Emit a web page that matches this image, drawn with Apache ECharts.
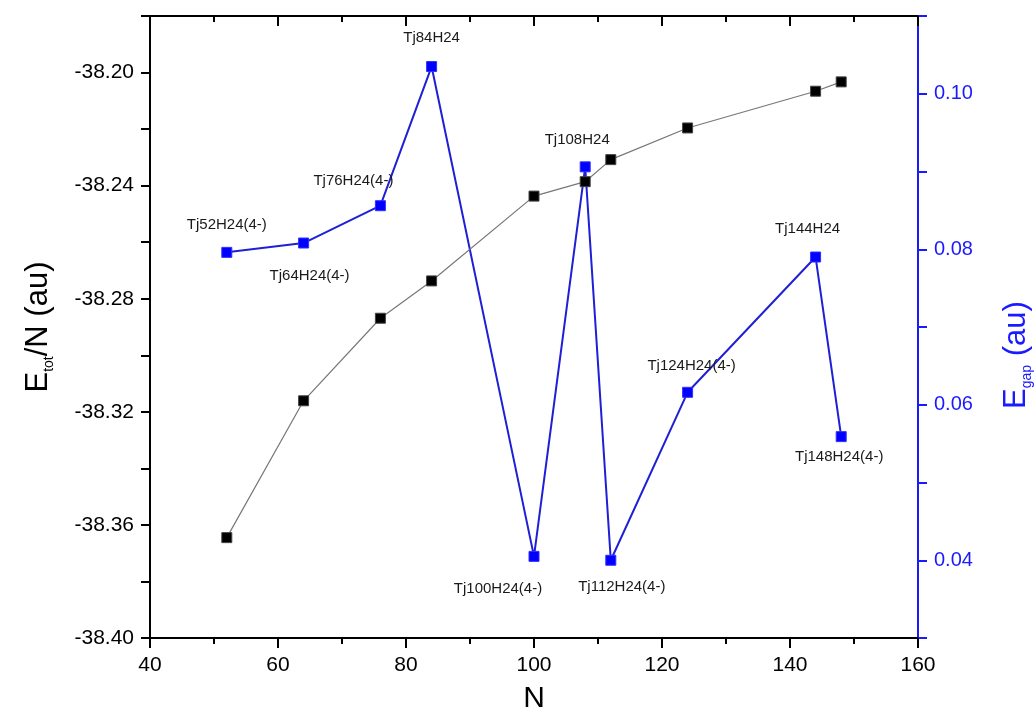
<!DOCTYPE html>
<html>
<head>
<meta charset="utf-8">
<script src="https://cdn.jsdelivr.net/npm/echarts@6/dist/echarts.min.js"></script>
<style>
    html, body { margin: 0; padding: 0; background: #fff; }
    #main { width: 1034px; height: 726px; }
</style>
</head>
<body>
<div id="main"></div>
<script>
// cluster size
const sizes = [52, 64, 76, 84, 100, 108, 112, 124, 144, 148];
// Etot/N (au), left axis
const etotPerN = [-38.3645, -38.3161, -38.2869, -38.2737, -38.2437, -38.2386, -38.2308, -38.2196, -38.2066, -38.2033];
// Egap (au), right axis
const egap = [0.0796, 0.0808, 0.0856, 0.1035, 0.0405, 0.0906, 0.0400, 0.0616, 0.0790, 0.0559];
// point names
const names = ['Tj52H24(4-)', 'Tj64H24(4-)', 'Tj76H24(4-)', 'Tj84H24', 'Tj100H24(4-)',
    'Tj108H24', 'Tj112H24(4-)', 'Tj124H24(4-)', 'Tj144H24', 'Tj148H24(4-)'];
// tick labels
const leftLabels = [-38.40, -38.36, -38.32, -38.28, -38.24, -38.20];
const rightLabels = [0.04, 0.06, 0.08, 0.10];

// where each name sits relative to its point
const labelOffsets = [[0, -28], [6, 33], [-27, -25], [0, -29], [-36, 32],
    [-8, -27], [11, 27], [4, -26], [-8, -28], [-2, 20]];

const font = 'Liberation Sans, Arial, sans-serif';
const blue = '#1a1aff';

let myChart = echarts.init(document.getElementById('main'));
myChart.setOption({
    backgroundColor: '#fff',
    animation: false,
    textStyle: { fontFamily: font },
    grid: {
        top: 16,
        right: 116,
        bottom: 88,
        left: 150,
        outerBoundsMode: 'none'
    },
    xAxis: [{
        type: 'value',
        min: 40,
        max: 160,
        interval: 20,
        name: 'N',
        nameLocation: 'middle',
        nameGap: 46,
        nameTextStyle: { fontSize: 30, color: '#000', fontFamily: font },
        axisLine: { lineStyle: { color: '#000', width: 2 } },
        axisTick: { length: 10, lineStyle: { color: '#000', width: 2 } },
        minorTick: { show: true, splitNumber: 2, length: 6, lineStyle: { color: '#000', width: 2 } },
        axisLabel: { fontSize: 21, color: '#000', margin: 17, fontFamily: font },
        splitLine: { show: false }
    }, {
        type: 'value',
        position: 'top',
        min: 40,
        max: 160,
        interval: 20,
        axisLine: { lineStyle: { color: '#000', width: 2 } },
        axisTick: { inside: true, length: 10, lineStyle: { color: '#000', width: 2 } },
        minorTick: { show: true, splitNumber: 2, length: 6, lineStyle: { color: '#000', width: 2 } },
        axisLabel: { show: false },
        splitLine: { show: false }
    }],
    yAxis: [{
        type: 'value',
        min: -38.40,
        max: -38.18,
        interval: 0.02,
        name: '{m|E}{s|tot}{m|/N (au)}',
        nameLocation: 'middle',
        nameGap: 94,
        nameTextStyle: {
            color: '#000',
            rich: {
                m: { fontSize: 31, lineHeight: 36, fontFamily: font, color: '#000' },
                s: { fontSize: 14, lineHeight: 14, verticalAlign: 'bottom', fontFamily: font, color: '#000' }
            }
        },
        axisLine: { lineStyle: { color: '#000', width: 2 } },
        axisTick: { length: 9, lineStyle: { color: '#000', width: 2 } },
        axisLabel: {
            customValues: leftLabels,
            formatter: (v) => v.toFixed(2),
            fontSize: 21,
            color: '#000',
            margin: 16,
            fontFamily: font
        },
        splitLine: { show: false }
    }, {
        type: 'value',
        position: 'right',
        min: 0.03,
        max: 0.11,
        interval: 0.01,
        name: '{m|E}{s|gap}{m| (au)}',
        nameLocation: 'middle',
        nameGap: 80,
        nameTextStyle: {
            color: blue,
            padding: [0, 56, 0, 0],
            rich: {
                m: { fontSize: 31, lineHeight: 36, fontFamily: font, color: blue },
                s: { fontSize: 14, lineHeight: 14, verticalAlign: 'bottom', fontFamily: font, color: blue }
            }
        },
        axisLine: { lineStyle: { color: blue, width: 2 } },
        axisTick: { length: 9, lineStyle: { color: blue, width: 2 } },
        axisLabel: {
            customValues: rightLabels,
            formatter: (v) => v.toFixed(2),
            fontSize: 20,
            color: blue,
            margin: 16,
            fontFamily: font
        },
        splitLine: { show: false }
    }],
    series: [{
        name: 'Egap',
        type: 'line',
        yAxisIndex: 1,
        symbol: 'rect',
        symbolSize: 10,
        data: egap.map((v, i) => ({
            value: [sizes[i], v],
            label: { offset: labelOffsets[i] }
        })),
        lineStyle: { color: '#1f1fd6', width: 2 },
        itemStyle: { color: '#0000ff', borderColor: '#3030ff', borderWidth: 1 },
        label: {
            show: true,
            position: 'inside',
            formatter: (p) => names[p.dataIndex],
            fontSize: 15,
            color: '#1a1a1a',
            fontFamily: font
        },
        z: 2
    }, {
        name: 'Etot/N',
        type: 'line',
        yAxisIndex: 0,
        symbol: 'rect',
        symbolSize: 10,
        data: etotPerN.map((v, i) => [sizes[i], v]),
        lineStyle: { color: '#777', width: 1.2 },
        itemStyle: { color: '#000', borderColor: '#444', borderWidth: 1 },
        z: 3
    }]
});
</script>
</body>
</html>
